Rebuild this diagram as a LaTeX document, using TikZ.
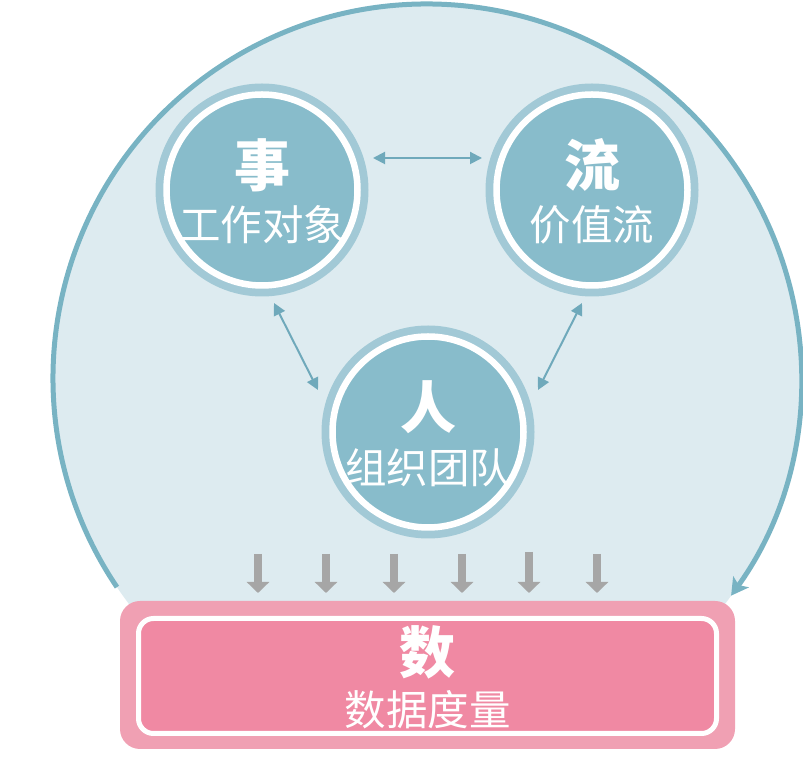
\documentclass[tikz,border=0pt]{standalone}
\usepackage{fontspec}
\newfontfamily\cjk{Noto Sans CJK SC}
\usetikzlibrary{arrows.meta,calc}
\definecolor{bgblue}{HTML}{DDEBF0}
\definecolor{arcblue}{HTML}{78B3C3}
\definecolor{ringblue}{HTML}{A2C9D6}
\definecolor{fillblue}{HTML}{88BCCB}
\definecolor{arrowblue}{HTML}{6FA9BB}
\definecolor{pinkout}{HTML}{F0A0B3}
\definecolor{pinkin}{HTML}{F089A3}
\definecolor{grayarr}{HTML}{A6A6A6}
\tikzset{
  ring/.style={circle, minimum size=213pt, inner sep=0pt, outer sep=0pt, fill=ringblue},
  bigchar/.style={text=white, font=\cjk\bfseries\fontsize{56pt}{60pt}\selectfont, inner sep=0pt},
  smalltext/.style={text=white, font=\cjk\fontsize{41.5pt}{44pt}\selectfont, inner sep=0pt},
  dblarrow/.style={arrowblue, line width=2pt, {Triangle[length=12pt,width=12pt]}-{Triangle[length=12pt,width=12pt]}},
  grayarrow/.style={grayarr, line width=8pt, -{Triangle[length=11pt,width=22pt]}},
}
\begin{document}
\begin{tikzpicture}[x=1pt,y=1pt]
\useasboundingbox (0,0) rectangle (803,760);
% big circle
\begin{scope}
\clip (0,11) rectangle (803,760);
\node[circle, minimum size=748pt, inner sep=0pt, outer sep=0pt, fill=bgblue] (big) at (427,382) {};
\end{scope}
\draw[arcblue, line width=5pt, -{Stealth[length=17pt,width=19pt,inset=4pt]}]
  (big.214) arc[start angle=214, end angle=-35.6, radius=374];
% three circles
\node[ring] (shi) at (262,570) {};
\node[ring] (liu) at (592,570) {};
\node[ring] (ren) at (428,328) {};
\foreach \c in {shi,liu,ren}{
  \draw[white, line width=6.5pt, fill=fillblue] (\c.center) circle (95.5);
}
\node[bigchar] (shiB) at ($(shi.center)+(0,25)$) {事};
\node[smalltext] (shiS) at ($(shi.center)+(0,-35)$) {工作对象};
\node[bigchar] (liuB) at ($(liu.center)+(0,25)$) {流};
\node[smalltext] (liuS) at ($(liu.center)+(0,-35)$) {价值流};
\node[bigchar] (renB) at ($(ren.center)+(0,25)$) {人};
\node[smalltext] (renS) at ($(ren.center)+(0,-36)$) {组织团队};
% double arrows
\draw[dblarrow] ($(shi.center)+(111,32)$) -- ($(liu.center)+(-110,32)$);
\draw[dblarrow] ($(shi.center)+(12,-113)$) -- ($(ren.center)+(-110,42)$);
\draw[dblarrow] ($(liu.center)+(-10,-113)$) -- ($(ren.center)+(110,42)$);
% pink box
\node[draw=none, fill=pinkout, rounded corners=20pt, minimum width=615pt, minimum height=148pt, inner sep=0pt, outer sep=0pt] (shu) at (427.5,85) {};
\draw[white, line width=5pt, fill=pinkin, rounded corners=15pt] (138.5,26.5) rectangle (716.5,141.5);
\node[bigchar] (shuB) at ($(shu.center)+(0,23)$) {数};
\node[smalltext] (shuS) at ($(shu.center)+(0,-35)$) {数据度量};
% gray arrows
\foreach \x/\t [count=\i] in {258/206,326/206,394/206,462/206,529/208,597/206}{
  \coordinate (g\i) at (\x,\t);
  \coordinate (g\i e) at (\x,167);
  \draw[grayarrow] (g\i) -- (g\i e);
}
\end{tikzpicture}
\end{document}
